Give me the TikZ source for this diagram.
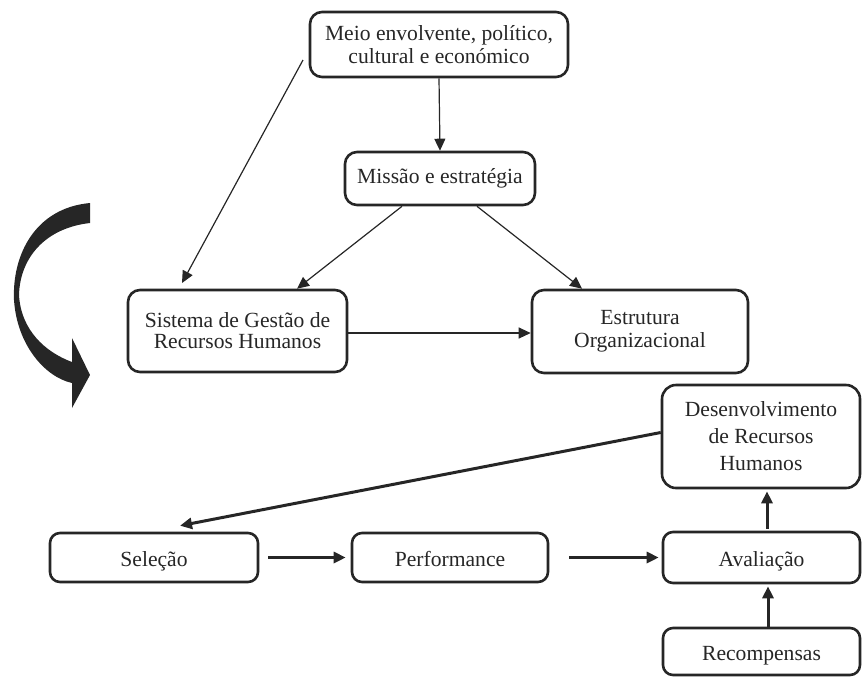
\documentclass[tikz,border=0pt]{standalone}
\usepackage{fontspec}
\setmainfont{Liberation Serif}
\usetikzlibrary{arrows.meta}
\definecolor{ink}{gray}{0.15}
\tikzset{
  box/.style={draw=ink, line width=1.3pt, rounded corners=6pt, align=center,
    inner sep=0pt, text=ink, font=\fontsize{10.8}{11.5}\selectfont},
  onebox/.style={box, rounded corners=5pt, text height=8.5pt, text depth=0pt},
  thin/.style={draw=ink, line width=0.6pt, -{Triangle[length=6pt,width=5.5pt]}},
  thick/.style={draw=ink, line width=1.5pt, -{Triangle[length=6pt,width=5.5pt]}},
}
\begin{document}
\begin{tikzpicture}[x=0.5pt, y=-0.5pt]
\useasboundingbox (0,0) rectangle (862,677);
% nodes
\node[box, minimum width=129pt, minimum height=32.5pt] (meio) at (439,44.5)
  {Meio envolvente, político,\\cultural e económico};
\node[box, minimum width=95pt, minimum height=26.5pt] (missao) at (440,178.5)
  {Missão e estratégia};
\node[box, minimum width=109.5pt, minimum height=41pt, font=\fontsize{10.8}{10.5}\selectfont] (sistema) at (237.5,331)
  {Sistema de Gestão de\\Recursos Humanos};
\node[box, minimum width=108pt, minimum height=41.5pt] (estrutura) at (640,331.5)
  {Estrutura\\Organizacional};
\node[box, rounded corners=7pt, minimum width=99pt, minimum height=51.5pt, font=\fontsize{10.8}{13.5}\selectfont] (desenv) at (761,436.5)
  {Desenvolvimento\\de Recursos\\Humanos};
\node[onebox, minimum width=104pt, minimum height=24.5pt] (selecao) at (154,557.5) {Seleção};
\node[onebox, minimum width=98pt, minimum height=24.5pt] (perf) at (450,557.5) {Performance};
\node[onebox, minimum width=98.5pt, minimum height=25.5pt] (aval) at (761.5,557.5) {Avaliação};
\node[onebox, minimum width=98.5pt, minimum height=23.5pt] (recomp) at (761.5,651.5) {Recompensas};
% free ends
\coordinate (envstart) at (303,60);
\coordinate (envend) at (182,283);
% connectors (top)
\draw[thin] (meio.south) -- (missao.north);
\draw[thin] (envstart) -- (envend);
\draw[thin] ([xshift=-19pt]missao.south) -- ([xshift=29.75pt]sistema.north);
\draw[thin] ([xshift=18.5pt]missao.south) -- ([xshift=-29pt]estrutura.north);
\draw[thin] ([yshift=-1pt]sistema.east) -- ([yshift=-1pt]sistema.east -| estrutura.west);
% connectors (bottom)
\draw[thick] ([yshift=2pt]desenv.west) -- ([xshift=13pt,yshift=3pt]selecao.north);
\draw[thick, shorten <=4.5pt, shorten >=2.5pt] (selecao.east) -- (perf.west);
\draw[thick, shorten <=10pt, shorten >=1.5pt] (perf.east) -- (aval.west);
\draw[thick, shorten <=1pt, shorten >=1pt] ([xshift=2.75pt]aval.north) -- ([xshift=3pt]desenv.south);
\draw[thick, shorten >=1pt] ([xshift=3.25pt]recomp.north) -- ([xshift=3.25pt]aval.south);
% big curved arrow
\fill[ink] (90,203) .. controls (35,208) and (12,255) .. (14,300)
  .. controls (17,345) and (45,377) .. (72,383)
  -- (72,408) -- (90,375) -- (72,338) -- (72,362)
  .. controls (45,352) and (21,330) .. (19,295)
  .. controls (20,258) and (45,228) .. (90,223) -- cycle;
\end{tikzpicture}
\end{document}
